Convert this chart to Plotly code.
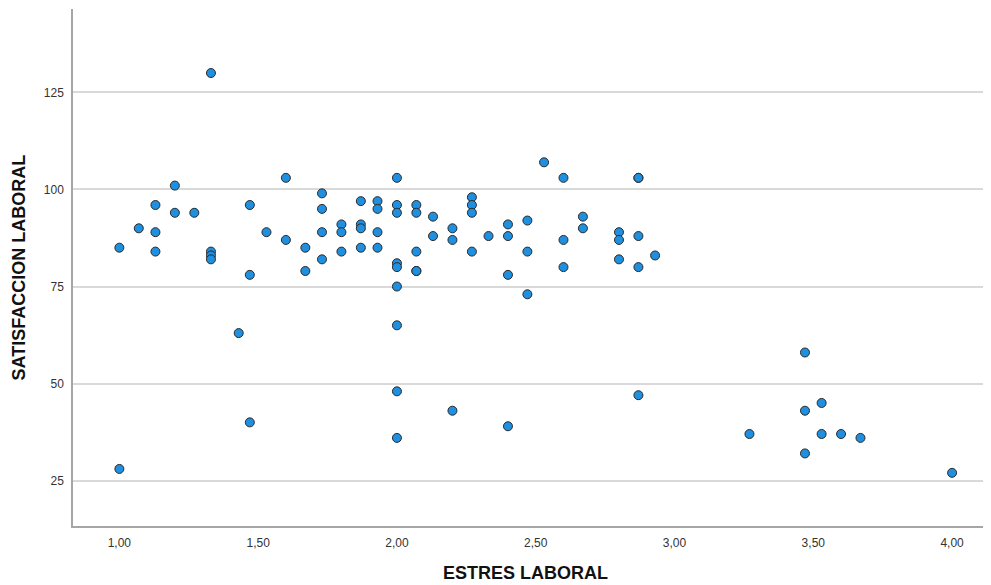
import plotly.graph_objects as go

# ESTRES LABORAL values
estres = [
    1.00, 1.00, 1.07, 1.13, 1.13, 1.13, 1.20, 1.20, 1.27,
    1.33, 1.33, 1.33, 1.33, 1.43, 1.47, 1.47, 1.47, 1.53, 1.60, 1.60,
    1.67, 1.67, 1.73, 1.73, 1.73, 1.73, 1.80, 1.80, 1.80,
    1.87, 1.87, 1.87, 1.87, 1.93, 1.93, 1.93, 1.93,
    2.00, 2.00, 2.00, 2.00, 2.00, 2.00, 2.00, 2.00, 2.00,
    2.07, 2.07, 2.07, 2.07, 2.07, 2.13, 2.13, 2.20, 2.20, 2.20,
    2.27, 2.27, 2.27, 2.27, 2.33, 2.40, 2.40, 2.40, 2.40,
    2.47, 2.47, 2.47, 2.53, 2.60, 2.60, 2.60, 2.67, 2.67,
    2.80, 2.80, 2.80, 2.87, 2.87, 2.87, 2.87, 2.87, 2.93,
    3.27, 3.47, 3.47, 3.47, 3.53, 3.53, 3.60, 3.67, 4.00,
]
# SATISFACCION LABORAL values
satisfaccion = [
    85, 28, 90, 96, 89, 84, 101, 94, 94,
    130, 84, 83, 82, 63, 96, 78, 40, 89, 103, 87,
    85, 79, 99, 95, 89, 82, 91, 89, 84,
    97, 91, 90, 85, 97, 95, 89, 85,
    103, 96, 94, 81, 80, 75, 65, 48, 36,
    96, 94, 84, 79, 79, 93, 88, 90, 87, 43,
    98, 96, 94, 84, 88, 91, 88, 78, 39,
    92, 84, 73, 107, 103, 87, 80, 93, 90,
    89, 87, 82, 103, 103, 88, 80, 47, 83,
    37, 58, 43, 32, 45, 37, 37, 36, 27,
]

x_ticks = [1.0, 1.5, 2.0, 2.5, 3.0, 3.5, 4.0]
x_ticktext = ["1,00", "1,50", "2,00", "2,50", "3,00", "3,50", "4,00"]
y_ticks = [25, 50, 75, 100, 125]

x_title = "ESTRES LABORAL"
y_title = "SATISFACCION LABORAL"

fig = go.Figure(
    go.Scatter(
        x=estres,
        y=satisfaccion,
        mode="markers",
        marker=dict(size=9, color="#1F8FE0", line=dict(color="#2a2a2a", width=1)),
        showlegend=False,
    )
)

title_font = dict(family="Liberation Sans, Arial, sans-serif", size=18, color="#111111", weight="bold")

# page body has an 8px default margin, so the figure is sized/offset to compensate
fig.update_layout(
    width=983,
    height=577,
    margin=dict(l=65, r=2, t=1, b=59),
    paper_bgcolor="white",
    plot_bgcolor="white",
    font=dict(family="Liberation Sans, Arial, sans-serif", size=12, color="#333333"),
    xaxis=dict(
        range=[0.833, 4.133],
        tickvals=x_ticks,
        ticktext=x_ticktext,
        showgrid=False,
        zeroline=False,
        showline=True,
        linecolor="#a6a6a6",
        linewidth=1.5,
        ticks="",
        ticklabelstandoff=5,
        automargin=False,
    ),
    yaxis=dict(
        range=[13.3, 146.5],
        tickvals=y_ticks,
        showgrid=True,
        gridcolor="#d9d9d9",
        gridwidth=1.5,
        zeroline=False,
        showline=True,
        linecolor="#a6a6a6",
        linewidth=1.5,
        ticks="",
        ticklabelstandoff=5,
        automargin=False,
    ),
    annotations=[
        dict(text=x_title, xref="paper", yref="paper", x=0.4945, y=0, yshift=-47,
             showarrow=False, font=title_font, xanchor="center", yanchor="middle"),
        dict(text=y_title, xref="paper", yref="paper", x=0, xshift=-55, y=0.5,
             showarrow=False, font=title_font, textangle=-90, xanchor="center", yanchor="middle"),
    ],
)

fig.write_html("out.html")
